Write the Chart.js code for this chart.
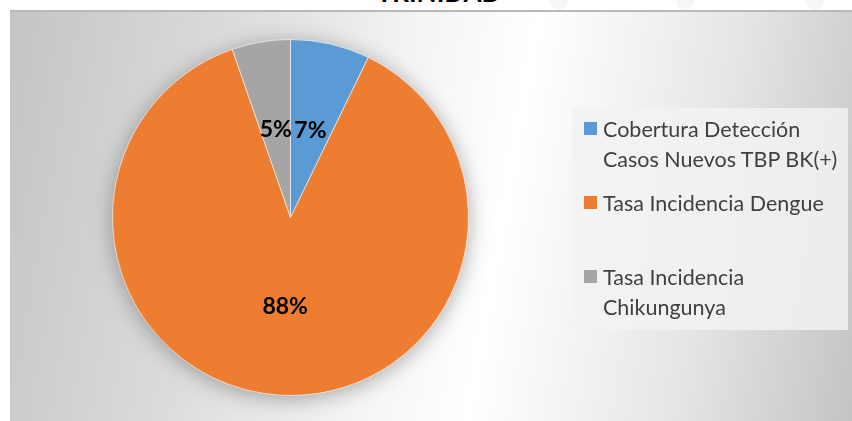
<!DOCTYPE html>
<html lang="es">
<head>
  <meta charset="UTF-8" />
  <title>Trinidad</title>
  <script src="https://cdn.jsdelivr.net/npm/chart.js"></script>
  <style>
    body {
      margin: 0;
      width: 852px;
      height: 421px;
      overflow: hidden;
      background: #fff;
      font-family: Lato, "Open Sans", sans-serif;
      position: relative;
    }
    #title {
      position: absolute;
      left: 339px;
      width: 200px;
      top: -21px;
      text-align: center;
      font-weight: bold;
      font-size: 26px;
      line-height: 1;
      color: #000;
    }
    .dot {
      position: absolute;
      top: -8px;
      width: 18px;
      height: 18px;
      border-radius: 50%;
      background: #f6f6f6;
    }
    #frame {
      position: absolute;
      left: 10px;
      top: 10px;
      width: 842px;
      height: 411px;
      border-top: 2px solid #b9b9b9;
      box-sizing: border-box;
      background: linear-gradient(100deg, #c4c4c4 0%, #dcdcdc 25%, #f4f4f4 45%, #ffffff 58%, #e6e6e6 80%, #c4c4c4 100%);
    }
    #chartBox {
      position: absolute;
      left: 7px;
      top: 10px;
      width: 570px;
      height: 411px;
    }
    #legend {
      position: absolute;
      left: 572px;
      top: 108px;
      width: 276px;
      height: 222px;
      background: rgba(242, 242, 242, 0.85);
      box-sizing: border-box;
      padding: 6px 0 0 12px;
      color: #404040;
      font-size: 21.5px;
    }
    .item {
      position: relative;
      padding-left: 19px;
      line-height: 30px;
    }
    .item .sw {
      position: absolute;
      left: 0;
      top: 8px;
      width: 13px;
      height: 13px;
    }
  </style>
</head>
<body>
  <div class="dot" style="left:550px"></div>
  <div class="dot" style="left:676px"></div>
  <div class="dot" style="left:806px"></div>
  <div id="title">TRINIDAD</div>
  <div id="frame"></div>
  <div id="chartBox"><canvas id="pie"></canvas></div>
  <div id="legend"></div>

  <script>
    const labels = [
      ['Cobertura Detección', 'Casos Nuevos TBP BK(+)'],
      ['Tasa Incidencia Dengue'],
      ['Tasa Incidencia', 'Chikungunya']
    ];
    const percents = [7.2, 87.5, 5.3];
    const colors = ['#5b9bd5', '#ed7d31', '#a5a5a5'];
    const itemGaps = [0, 14, 44];

    // legend as html, lines kept as in the original
    const legend = document.getElementById('legend');
    legend.innerHTML = labels.map((lines, i) =>
      `<div class="item" style="margin-top:${itemGaps[i]}px"><span class="sw" style="background:${colors[i]}"></span>${lines.join('<br>')}</div>`
    ).join('');

    // soft shadow behind the pie
    const pieShadow = {
      id: 'pieShadow',
      beforeDatasetsDraw(chart) {
        const arc = chart.getDatasetMeta(0).data[0];
        if (!arc) return;
        const ctx = chart.ctx;
        ctx.save();
        ctx.shadowColor = 'rgba(0,0,0,0.35)';
        ctx.shadowBlur = 22;
        ctx.shadowOffsetY = 3;
        ctx.fillStyle = colors[1];
        ctx.beginPath();
        ctx.arc(arc.x, arc.y, arc.outerRadius - 1, 0, Math.PI * 2);
        ctx.fill();
        ctx.restore();
      }
    };

    // percent labels inside slices
    const sliceLabels = {
      id: 'sliceLabels',
      afterDatasetsDraw(chart) {
        const ctx = chart.ctx;
        const total = percents.reduce((a, b) => a + b, 0);
        ctx.save();
        ctx.font = 'bold 23px Lato';
        ctx.fillStyle = '#000';
        ctx.textAlign = 'center';
        ctx.textBaseline = 'middle';
        chart.getDatasetMeta(0).data.forEach((arc, i) => {
          const mid = (arc.startAngle + arc.endAngle) / 2;
          const r = arc.outerRadius * 0.5;
          const x = arc.x + Math.cos(mid) * r;
          const y = arc.y + Math.sin(mid) * r;
          ctx.fillText(Math.round(percents[i] / total * 100) + '%', x, y);
        });
        ctx.restore();
      }
    };

    new Chart(document.getElementById('pie'), {
      type: 'pie',
      data: {
        labels: labels,
        datasets: [{
          data: percents,
          backgroundColor: colors,
          borderColor: 'rgba(255,255,255,0.6)',
          borderWidth: 1
        }]
      },
      options: {
        responsive: true,
        maintainAspectRatio: false,
        animation: false,
        layout: { padding: { top: 29, bottom: 25, left: 105, right: 108 } },
        plugins: {
          legend: { display: false },
          tooltip: { enabled: false }
        }
      },
      plugins: [pieShadow, sliceLabels]
    });
  </script>
</body>
</html>
